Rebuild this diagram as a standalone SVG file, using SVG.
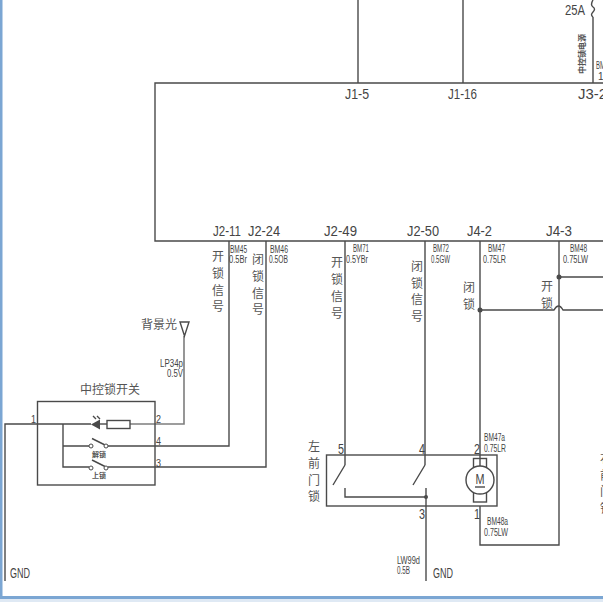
<svg xmlns="http://www.w3.org/2000/svg" width="603" height="602" viewBox="0 0 603 602">
<style>
.w{fill:none;stroke:#4a4a4a;stroke-width:1.4}
.g{fill:none;stroke:#7d7d7d;stroke-width:1.6}
.d{fill:#4a4a4a;stroke:none}
text{font-family:"Liberation Sans","Noto Sans CJK SC",sans-serif;fill:#444}
.c{font-family:"Noto Sans CJK SC","Liberation Sans",sans-serif;font-size:12px;text-anchor:middle;fill:#555}
.j{font-size:15px}
.s{font-size:10px}
.p{font-size:10px}
.n{font-size:15px}
</style>
<rect width="603" height="602" fill="#fff"/>
<rect id="frame-left" x="0" y="0" width="2.500" height="598" fill="#7ba6d3"/>
<rect id="frame-bottom" x="0" y="596" width="603" height="3" fill="#7ba6d3"/>
<rect id="frame-foot" x="0" y="599" width="603" height="3" fill="#dfe9f4"/>

<g id="connectors">
<path class="w" d="M358 0V83M463 0V83M593 17V83"/>
<path class="w" d="M593 17q-3-2 0-5t0-5t0-7"/>
<path class="w" d="M229 241V446H108M266 241V467H108"/>
<path class="w" d="M5 581V424H91M63 424V467H89M63 446H89"/>
<path class="g" d="M130 424H184V336"/>
<path class="w" d="M107 424H100"/>
<path class="w" d="M345 241V465M425 241V465M480 241V480M480 506V545H559V241"/>
<path class="w" d="M426 488V581"/>
<path class="w" d="M559 277H603M480 310H554q4.500-8 9 0H603"/>
<circle class="d" cx="559" cy="277" r="2.500"/>
<circle class="d" cx="480" cy="310" r="2.500"/>
</g>

<g id="ecu">
<path class="w" d="M603 83H155V241H603"/>
<text class="j" x="345" y="99" textLength="24" lengthAdjust="spacingAndGlyphs">J1-5</text>
<text class="j" x="448" y="99" textLength="29" lengthAdjust="spacingAndGlyphs">J1-16</text>
<text class="j" x="578" y="99" textLength="29" lengthAdjust="spacingAndGlyphs">J3-2</text>
<text class="j" x="213" y="236" textLength="28" lengthAdjust="spacingAndGlyphs">J2-11</text>
<text class="j" x="248" y="236" textLength="32" lengthAdjust="spacingAndGlyphs">J2-24</text>
<text class="j" x="324" y="236" textLength="33" lengthAdjust="spacingAndGlyphs">J2-49</text>
<text class="j" x="407" y="236" textLength="32" lengthAdjust="spacingAndGlyphs">J2-50</text>
<text class="j" x="467" y="236" textLength="25" lengthAdjust="spacingAndGlyphs">J4-2</text>
<text class="j" x="546" y="236" textLength="26" lengthAdjust="spacingAndGlyphs">J4-3</text>
</g>

<g id="fuse-label">
<text x="565" y="15" font-size="15" textLength="20" lengthAdjust="spacingAndGlyphs">25A</text>
<text class="c" transform="translate(585 54) rotate(-90)" style="font-size:8px;font-weight:bold">中控锁电源</text>
<text class="s" x="596" y="69" textLength="9" lengthAdjust="spacingAndGlyphs">BM</text>
<text class="s" x="598" y="80">1.</text>
</g>

<g id="wire-labels">
<text class="s" x="230" y="253" textLength="17" lengthAdjust="spacingAndGlyphs">BM45</text>
<text class="s" x="229" y="263" textLength="18" lengthAdjust="spacingAndGlyphs">0.5Br</text>
<text class="s" x="270" y="253" textLength="18" lengthAdjust="spacingAndGlyphs">BM46</text>
<text class="s" x="269" y="263" textLength="19" lengthAdjust="spacingAndGlyphs">0.5OB</text>
<text class="s" x="353" y="252" textLength="16" lengthAdjust="spacingAndGlyphs">BM71</text>
<text class="s" x="346" y="263" textLength="22" lengthAdjust="spacingAndGlyphs">0.5YBr</text>
<text class="s" x="433" y="252" textLength="16" lengthAdjust="spacingAndGlyphs">BM72</text>
<text class="s" x="431" y="263" textLength="19" lengthAdjust="spacingAndGlyphs">0.5GW</text>
<text class="s" x="488" y="252" textLength="17" lengthAdjust="spacingAndGlyphs">BM47</text>
<text class="s" x="483" y="263" textLength="23" lengthAdjust="spacingAndGlyphs">0.75LR</text>
<text class="s" x="570" y="252" textLength="17" lengthAdjust="spacingAndGlyphs">BM48</text>
<text class="s" x="563" y="263" textLength="25" lengthAdjust="spacingAndGlyphs">0.75LW</text>
<text class="s" x="160" y="367" textLength="23" lengthAdjust="spacingAndGlyphs">LP34p</text>
<text class="s" x="167" y="377" textLength="16" lengthAdjust="spacingAndGlyphs">0.5V</text>
<text class="s" x="484" y="441" textLength="21" lengthAdjust="spacingAndGlyphs">BM47a</text>
<text class="s" x="484" y="452" textLength="22" lengthAdjust="spacingAndGlyphs">0.75LR</text>
<text class="s" x="487" y="525" textLength="21" lengthAdjust="spacingAndGlyphs">BM48a</text>
<text class="s" x="484" y="536" textLength="24" lengthAdjust="spacingAndGlyphs">0.75LW</text>
<text class="s" x="397" y="564" textLength="23" lengthAdjust="spacingAndGlyphs">LW99d</text>
<text class="s" x="397" y="574" textLength="13" lengthAdjust="spacingAndGlyphs">0.5B</text>
<text class="j" x="10" y="578" textLength="20" lengthAdjust="spacingAndGlyphs">GND</text>
<text class="j" x="433" y="578" textLength="20" lengthAdjust="spacingAndGlyphs">GND</text>
</g>

<g id="signal-labels">
<text class="c" x="218" y="261">开</text><text class="c" x="218" y="278">锁</text><text class="c" x="218" y="295">信</text><text class="c" x="218" y="311">号</text>
<text class="c" x="258" y="264">闭</text><text class="c" x="258" y="281">锁</text><text class="c" x="258" y="298">信</text><text class="c" x="258" y="314">号</text>
<text class="c" x="337" y="267">开</text><text class="c" x="337" y="284">锁</text><text class="c" x="337" y="301">信</text><text class="c" x="337" y="318">号</text>
<text class="c" x="417" y="271">闭</text><text class="c" x="417" y="288">锁</text><text class="c" x="417" y="304">信</text><text class="c" x="417" y="321">号</text>
<text class="c" x="469" y="292">闭</text><text class="c" x="469" y="309">锁</text>
<text class="c" x="547" y="291">开</text><text class="c" x="547" y="308">锁</text>
<text class="c" x="606" y="463">右</text><text class="c" x="606" y="480">前</text><text class="c" x="606" y="496">门</text><text class="c" x="606" y="513">锁</text>
</g>

<g id="backlight">
<path class="w" d="M180 322H189L184.500 336Z"/>
<text class="c" x="159" y="329">背景光</text>
</g>

<g id="switch">
<rect class="w" x="37.500" y="401.500" width="117.500" height="83.500"/>
<text class="c" x="110" y="394">中控锁开关</text>
<polygon class="d" points="91,424.500 100,419.500 100,429.500"/>
<path class="w" d="M96 419l-3-3M100 419l-3-3"/>
<rect class="w" x="107" y="420.500" width="23" height="8"/>
<path class="w" d="M92 438.500L105 445M92 460L105 466.500"/>
<circle cx="91" cy="446" r="2" fill="#fff" stroke="#4a4a4a"/>
<circle cx="106" cy="446" r="2" fill="#fff" stroke="#4a4a4a"/>
<circle cx="91" cy="468" r="2" fill="#fff" stroke="#4a4a4a"/>
<circle cx="106" cy="468" r="2" fill="#fff" stroke="#4a4a4a"/>
<text class="c" x="99" y="457" style="font-size:7px;font-weight:bold">解锁</text>
<text class="c" x="99" y="478" style="font-size:7px;font-weight:bold">上锁</text>
<text class="p" x="31" y="423" textLength="5" lengthAdjust="spacingAndGlyphs">1</text>
<text class="p" x="156" y="423" textLength="5" lengthAdjust="spacingAndGlyphs">2</text>
<text class="p" x="156" y="445" textLength="5" lengthAdjust="spacingAndGlyphs">4</text>
<text class="p" x="156" y="467" textLength="5" lengthAdjust="spacingAndGlyphs">3</text>
</g>

<g id="door-lock">
<rect class="w" x="326.500" y="455" width="170.500" height="51"/>
<path class="w" d="M345 465L333 485M425 465L413 485M345 488V497H426"/>
<circle class="d" cx="426" cy="497" r="2"/>
<rect class="w" x="473.500" y="458.500" width="13" height="43.500"/>
<circle cx="480" cy="480" r="14" fill="#fff" stroke="#4a4a4a" stroke-width="1.400"/>
<text x="475.500" y="484" font-size="15" textLength="9" lengthAdjust="spacingAndGlyphs">M</text>
<path class="w" d="M475 487H485"/>
<text class="c" x="314" y="451">左</text><text class="c" x="314" y="468">前</text><text class="c" x="314" y="485">门</text><text class="c" x="314" y="501">锁</text>
<text class="n" x="338" y="454" textLength="6" lengthAdjust="spacingAndGlyphs">5</text>
<text class="n" x="419" y="454" textLength="6" lengthAdjust="spacingAndGlyphs">4</text>
<text class="n" x="474" y="454" textLength="6" lengthAdjust="spacingAndGlyphs">2</text>
<text class="n" x="419" y="519" textLength="6" lengthAdjust="spacingAndGlyphs">3</text>
<text class="n" x="474" y="519" textLength="6" lengthAdjust="spacingAndGlyphs">1</text>
</g>
</svg>
